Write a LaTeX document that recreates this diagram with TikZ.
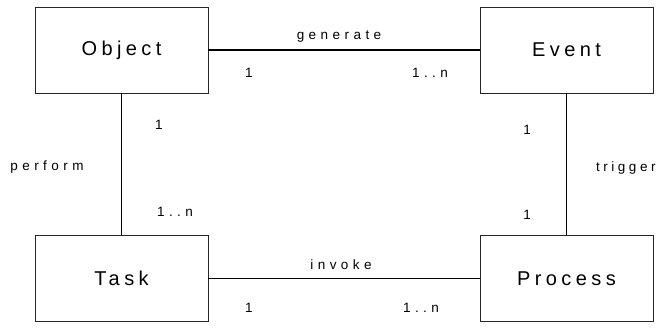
\documentclass[tikz,border=0pt]{standalone}
\usepackage{fontspec}
\setmainfont{Liberation Sans}
\newfontfamily\boxfont[LetterSpace=22]{Liberation Sans}
\newfontfamily\lblfont[LetterSpace=33]{Liberation Sans}
\newfontfamily\tightfont[LetterSpace=26]{Liberation Sans}
\begin{document}
\begin{tikzpicture}[x=1pt,y=-1pt,
  entity/.style={draw=black!85, line width=0.8pt, minimum width=173pt, minimum height=86pt,
    inner sep=0pt, font=\boxfont\fontsize{20}{24}\selectfont},
  link/.style={draw=black, line width=1.2pt},
  lbl/.style={inner sep=0pt, font=\lblfont\fontsize{13.5}{16}\selectfont}]
\useasboundingbox (0,0) rectangle (658,330);
\node[entity] (obj)  at (121.5,50)  {Object};
\node[entity] (evt)  at (566.5,50)  {Event};
\node[entity] (task) at (121.5,278.5) {Task};
\node[entity] (proc) at (566.5,278.5) {Process};
\draw[link] (obj) -- (evt);
\draw[link] (obj) -- (task);
\draw[link] (evt) -- (proc);
\draw[link] (task) -- (proc);
% relationship names
\node[lbl] (gen) at (339,37)  {generate};
\node[lbl] (per) at (47,167)  {perform};
\node[lbl, anchor=west, font=\tightfont\fontsize{13.5}{16}\selectfont] (trg) at (596,168) {trigger};
\node[lbl] (inv) at (341,265) {invoke};
% multiplicities
\node[lbl] (m1) at (249,73)  {1};
\node[lbl] (m2) at (430,73)  {1..n};
\node[lbl] (m3) at (159,125) {1};
\node[lbl] (m4) at (175,212) {1..n};
\node[lbl] (m5) at (527,130) {1};
\node[lbl] (m6) at (527,215) {1};
\node[lbl] (m7) at (249,308) {1};
\node[lbl] (m8) at (421,308) {1..n};
\end{tikzpicture}
\end{document}
